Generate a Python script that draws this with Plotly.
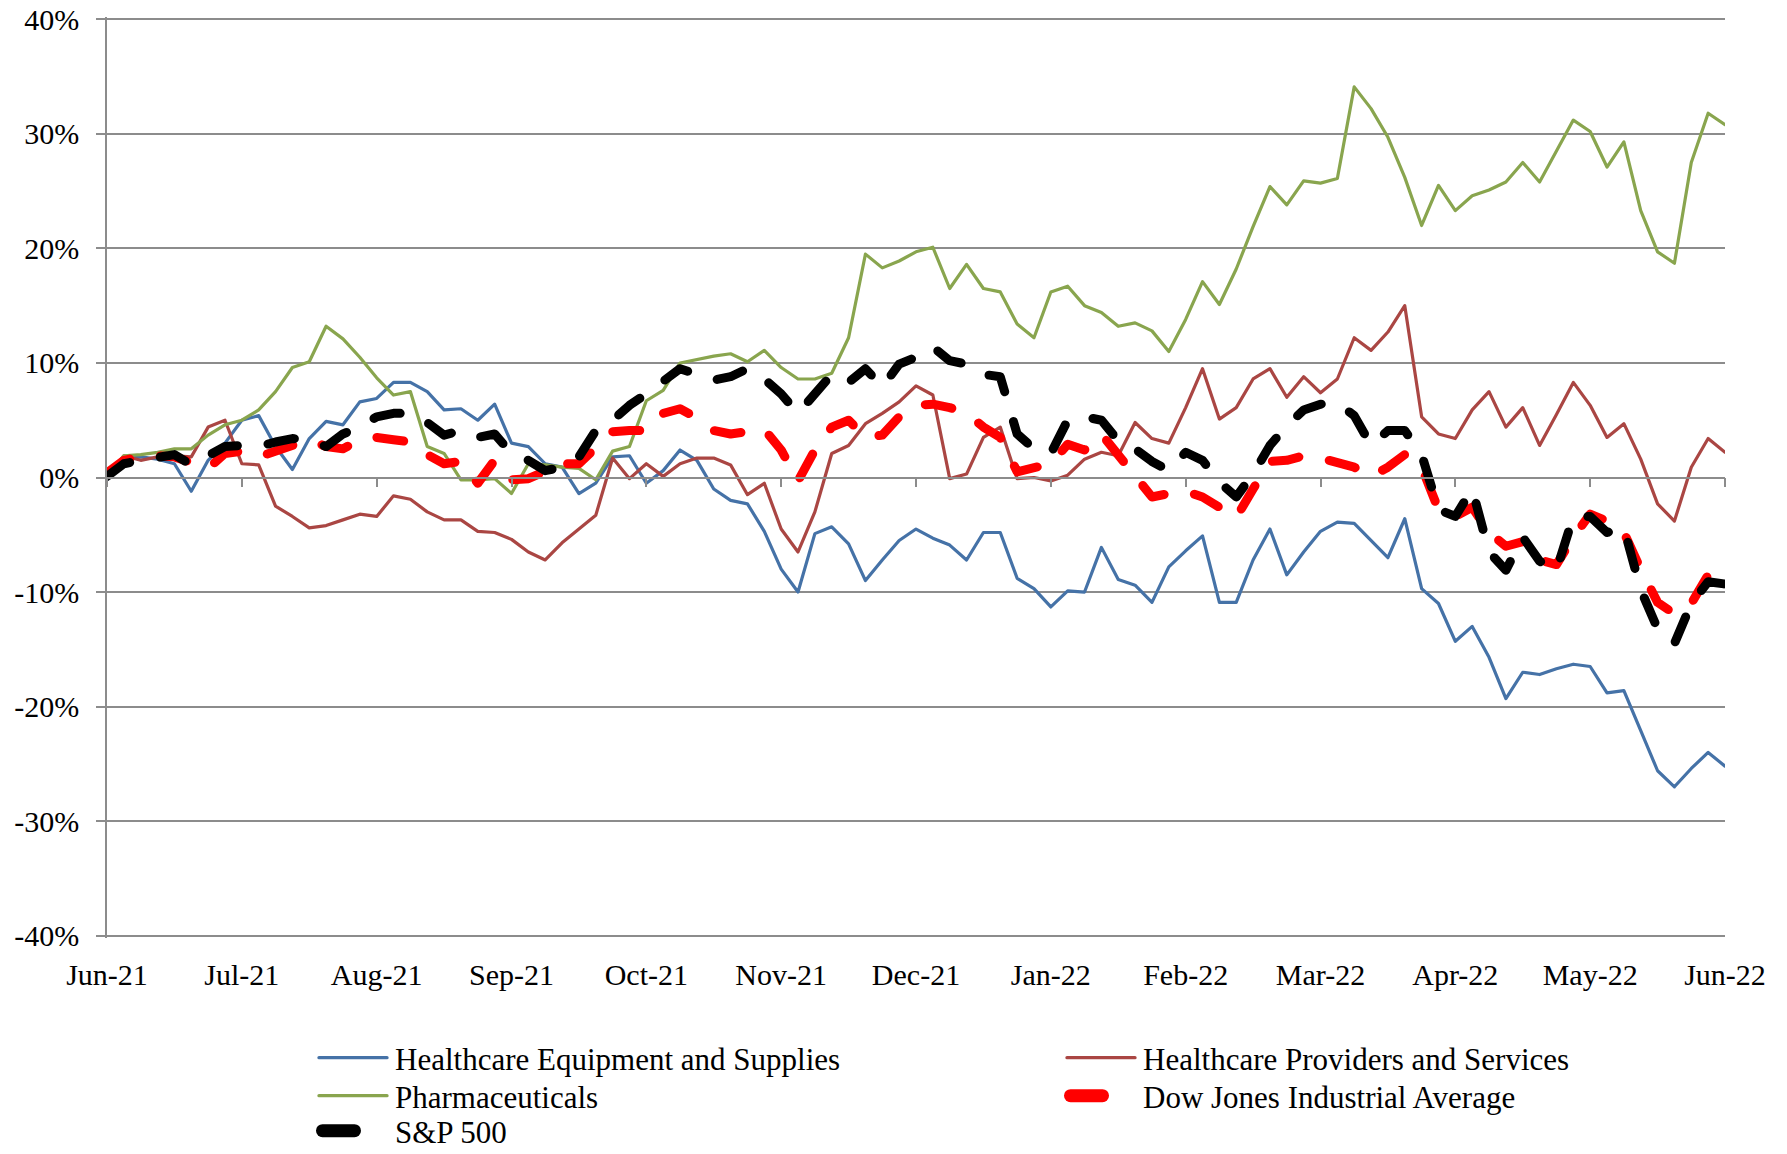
import plotly.graph_objects as go

# ---------------- data (percent change since Jun-21) ----------------
month_labels = ["Jun-21", "Jul-21", "Aug-21", "Sep-21", "Oct-21", "Nov-21", "Dec-21",
                "Jan-22", "Feb-22", "Mar-22", "Apr-22", "May-22", "Jun-22"]
y_tick_values = [40, 30, 20, 10, 0, -10, -20, -30, -40]
y_tick_labels = ["40%", "30%", "20%", "10%", "0%", "-10%", "-20%", "-30%", "-40%"]

equipment = [
    -0.2, 1.6, 1.8, 1.6, 1.2, -1.2, 1.5, 3.0, 5.0, 5.4,
    2.7, 0.7, 3.4, 4.9, 4.6, 6.6, 6.9, 8.3, 8.3, 7.5,
    5.9, 6.0, 5.0, 6.4, 3.0, 2.7, 1.2, 0.9, -1.4, -0.5,
    1.8, 1.9, -0.5, 0.6, 2.4, 1.5, -1.0, -2.0, -2.3, -4.7,
    -8.0, -10.0, -4.9, -4.3, -5.8, -9.0, -7.2, -5.5, -4.5, -5.3,
    -5.9, -7.2, -4.8, -4.8, -8.8, -9.7, -11.3, -9.9, -10.0, -6.1,
    -8.9, -9.4, -10.9, -7.8, -6.4, -5.1, -10.9, -10.9, -7.2, -4.5,
    -8.5, -6.5, -4.7, -3.9, -4.0, -5.5, -7.0, -3.6, -9.7, -11.0,
    -14.3, -13.0, -15.7, -19.3, -17.0, -17.2, -16.7, -16.3, -16.5, -18.8,
    -18.6, -22.1, -25.6, -27.0, -25.4, -24.0, -25.2]

providers = [
    0.1, 1.9, 1.5, 1.8, 1.9, 1.8, 4.4, 5.0, 1.2, 1.1,
    -2.5, -3.4, -4.4, -4.2, -3.7, -3.2, -3.4, -1.6, -1.9, -3.0,
    -3.7, -3.7, -4.7, -4.8, -5.4, -6.5, -7.2, -5.7, -4.5, -3.3,
    1.7, -0.1, 1.2, 0.1, 1.2, 1.7, 1.7, 1.1, -1.5, -0.5,
    -4.5, -6.5, -3.0, 2.1, 2.8, 4.7, 5.6, 6.6, 8.0, 7.2,
    -0.1, 0.3, 3.5, 4.4, -0.1, 0.0, -0.3, 0.2, 1.6, 2.2,
    1.9, 4.8, 3.4, 3.0, 6.1, 9.5, 5.1, 6.1, 8.6, 9.5,
    7.0, 8.8, 7.4, 8.6, 12.2, 11.1, 12.7, 15.0, 5.3, 3.8,
    3.4, 5.9, 7.5, 4.4, 6.1, 2.8, 5.5, 8.3, 6.3, 3.5,
    4.7, 1.6, -2.3, -3.8, 0.9, 3.4, 2.2]

pharma = [
    0.1, 1.9, 2.0, 2.2, 2.5, 2.5, 3.7, 4.6, 5.0, 5.9,
    7.5, 9.6, 10.1, 13.2, 12.1, 10.5, 8.7, 7.2, 7.5, 2.7,
    2.1, -0.2, -0.2, -0.1, -1.4, 1.2, 1.1, 0.9, 0.8, -0.2,
    2.3, 2.7, 6.7, 7.6, 10.0, 10.3, 10.6, 10.8, 10.1, 11.1,
    9.6, 8.6, 8.6, 9.1, 12.2, 19.5, 18.3, 18.9, 19.7, 20.1,
    16.5, 18.6, 16.5, 16.2, 13.4, 12.2, 16.2, 16.7, 15.0, 14.4,
    13.2, 13.5, 12.8, 11.0, 13.8, 17.1, 15.1, 18.2, 21.9, 25.4,
    23.8, 25.9, 25.7, 26.1, 34.1, 32.2, 29.7, 26.2, 22.0, 25.5,
    23.3, 24.6, 25.1, 25.8, 27.5, 25.8, 28.5, 31.2, 30.2, 27.1,
    29.3, 23.3, 19.7, 18.7, 27.5, 31.8, 30.8]

djia = [
    0.4, 1.5, 1.8, 1.9, 1.8, 1.4, 0.8, 2.1, 2.3, 1.8,
    2.3, 2.7, 3.3, 2.7, 2.5, 3.3, 3.5, 3.3, 3.1, 2.0,
    1.2, 1.4, -0.5, 1.5, -0.2, -0.1, 0.6, 1.2, 1.2, 2.7,
    4.0, 4.1, 4.1, 5.6, 6.0, 5.2, 4.1, 3.8, 4.0, 4.2,
    2.4, -0.3, 2.4, 4.4, 5.0, 3.5, 3.7, 5.3, 6.3, 6.4,
    6.1, 5.6, 4.4, 3.5, 0.5, 0.9, 1.2, 2.9, 2.4, 3.8,
    1.9, -0.1, -1.7, -1.4, -1.2, -1.7, -2.6, -3.5, -1.0, 1.4,
    1.5, 1.9, 1.7, 1.2, 0.9, 0.1, 0.9, 2.0, 0.9, -2.8,
    -3.4, -2.6, -4.8, -6.0, -5.6, -7.2, -7.6, -5.2, -3.2, -3.8,
    -4.8, -8.0, -10.9, -11.9, -11.0, -8.5, -8.9]

sp500 = [
    0.1, 1.2, 1.5, 1.8, 2.0, 1.1, 1.8, 2.7, 2.8, 2.7,
    3.1, 3.4, 3.3, 2.7, 3.8, 4.4, 5.3, 5.6, 5.6, 4.8,
    3.7, 4.1, 3.5, 3.8, 2.1, 1.5, 0.6, 0.9, 1.8, 4.1,
    5.0, 6.3, 7.3, 8.5, 9.5, 9.0, 8.5, 8.8, 9.5, 8.6,
    7.3, 5.6, 7.3, 9.0, 8.3, 9.5, 7.9, 9.9, 10.5, 11.4,
    10.2, 9.9, 9.0, 8.8, 3.8, 2.5, 2.1, 5.0, 5.3, 5.0,
    3.2, 2.5, 1.4, 0.6, 2.2, 1.5, -0.4, -1.7, 0.3, 2.8,
    4.5, 5.9, 6.4, 6.5, 5.4, 2.8, 4.1, 4.1, 2.0, -2.8,
    -3.4, -1.0, -6.5, -8.1, -5.2, -7.3, -8.1, -3.4, -3.4, -4.8,
    -4.4, -9.8, -13.2, -14.5, -11.0, -9.1, -9.3]

# time position in months since Jun-21 (8 samples per month)
samples_per_month = 8
t = [i / samples_per_month for i in range(len(equipment))]

FONT = "Liberation Serif, Times New Roman, serif"
GRID = "#8C8C8C"
W, H = 1787, 1154

# name, values, colour, width, dash, legend id, legend item origin (px from left, px from top)
series = [
    ("Healthcare Equipment and Supplies", equipment, "#4572A7", 3.2, "solid", "legend", 310, 1058),
    ("Healthcare Providers and Services", providers, "#AA4643", 3.2, "solid", "legend2", 1058, 1058),
    ("Pharmaceuticals", pharma, "#89A54E", 3.2, "solid", "legend3", 310, 1096),
    ("Dow Jones Industrial Average", djia, "#FF0000", 9, "27px,31px", "legend4", 1058, 1096),
    ("S&P 500", sp500, "#000000", 9, "27px,31px", "legend5", 310, 1131),
]

fig = go.Figure()
legends = {}
for k, (name, vals, color, width, dash, leg, lx, ly) in enumerate(series):
    fig.add_trace(go.Scatter(
        x=t, y=vals, name=name, mode="lines",
        line=dict(color=color, width=width, dash=dash),
        hoverinfo="skip", legend=leg,
        xaxis="x2" if k == len(series) - 1 else "x",
    ))
    legends[leg] = dict(
        xref="container", yref="container",
        x=lx / W, xanchor="left", y=1 - ly / H, yanchor="middle",
        itemwidth=75, font=dict(family=FONT, size=31, color="black"),
        bgcolor="rgba(0,0,0,0)", borderwidth=0,
    )

fig.update_layout(
    width=W, height=H,
    margin=dict(l=107, r=62, t=17, b=216, autoexpand=False),
    paper_bgcolor="white", plot_bgcolor="white",
    font=dict(family=FONT, size=30, color="black"),
    showlegend=True,
    xaxis=dict(
        range=[0, 12], tickmode="array", tickvals=list(range(len(month_labels))),
        ticktext=month_labels, showgrid=False, zeroline=False, showline=False,
        ticks="", ticklabelstandoff=16,
        tickfont=dict(family=FONT, size=30, color="black"),
    ),
    xaxis2=dict(
        overlaying="x", anchor="free", position=0.5, side="bottom", matches="x",
        range=[0, 12], tickmode="array", tickvals=list(range(len(month_labels))),
        showticklabels=False, showgrid=False, zeroline=False,
        showline=True, linecolor=GRID, linewidth=1.6,
        ticks="outside", ticklen=9, tickwidth=1.6, tickcolor=GRID,
    ),
    yaxis=dict(
        range=[-40.2, 40.2], tickmode="array", tickvals=y_tick_values, ticktext=y_tick_labels,
        showgrid=True, gridcolor=GRID, gridwidth=1.6, zeroline=False,
        showline=True, linecolor=GRID, linewidth=1.6,
        ticks="outside", ticklen=9, tickwidth=1.6, tickcolor=GRID,
        ticklabelstandoff=11,
        tickfont=dict(family=FONT, size=30, color="black"),
    ),
    **legends,
)

post = """
var gd = document.getElementById('{plot_id}');
document.body.style.margin = '0';
document.body.style.overflow = 'hidden';
var css = document.createElement('style');
css.textContent =
  '.js-line { stroke-linecap: round !important; stroke-linejoin: round !important; }' +
  '.legendlines path { stroke-dasharray: none !important; }' +
  '.legend .legendlines path, .legend2 .legendlines path, .legend3 .legendlines path' +
  ' { d: path("M9,0h68"); stroke-width: 3.3px !important; }' +
  '.legend4 .legendlines path, .legend5 .legendlines path' +
  ' { d: path("M12.5,0h32"); stroke-width: 13px !important; }';
document.head.appendChild(css);
function fixPaths() {
  ['legend', 'legend2', 'legend3'].forEach(function(c) {
    gd.querySelectorAll('.' + c + ' .legendlines path').forEach(function(p) {
      p.setAttribute('d', 'M9,0h68');
    });
  });
  ['legend4', 'legend5'].forEach(function(c) {
    gd.querySelectorAll('.' + c + ' .legendlines path').forEach(function(p) {
      p.setAttribute('d', 'M12.5,0h32');
    });
  });
}
fixPaths();
gd.on('plotly_afterplot', fixPaths);
"""

fig.write_html("out.html", post_script=post, config={"displayModeBar": False})
